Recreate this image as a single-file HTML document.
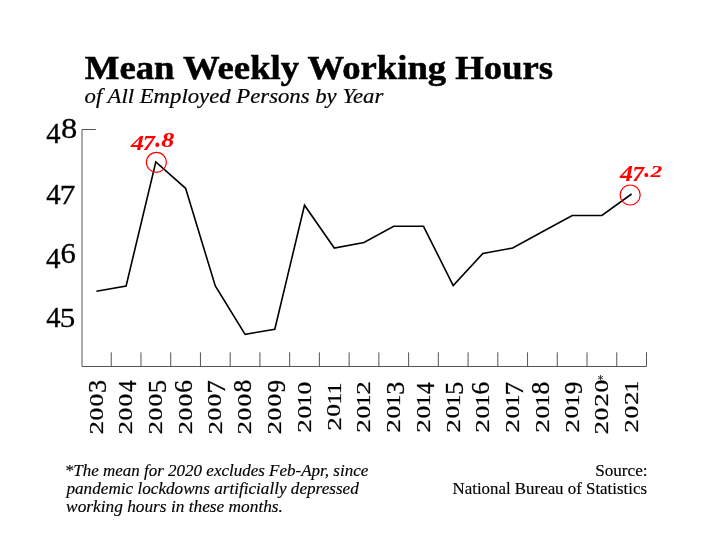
<!DOCTYPE html>
<html><head><meta charset="utf-8"><style>
html,body{margin:0;padding:0;background:#fff;width:713px;height:551px;overflow:hidden}
svg{display:block;will-change:transform}
text{font-family:"Liberation Serif",serif}
</style></head><body>
<svg width="713" height="551" viewBox="0 0 713 551">
<rect width="713" height="551" fill="#fff"/>
<text transform="translate(84.80,78.6) scale(1.1121,1)" font-size="33" font-weight="bold" fill="#000" stroke="#000" stroke-width="0.5">Mean Weekly Working Hours</text>
<text transform="translate(84.58,102.7) scale(1.0834,1)" font-size="21" font-style="italic" fill="#000" stroke="#000" stroke-width="0.2">of All Employed Persons by Year</text>
<g fill="#000" stroke="#000" stroke-width="0.3">
<text transform="matrix(1.022 0 0 1.02 46.14 142.7)" font-size="28" >4</text>
<text transform="matrix(1.163 0 0 1.027 61.06 138)" font-size="28" >8</text>
<text transform="matrix(1.03 0 0 1.042 46.14 204.4)" font-size="28" >4</text>
<text transform="matrix(1.119 0 0 1.009 59.83 204.4)" font-size="28" >7</text>
<text transform="matrix(1.037 0 0 1.026 45.93 267.7)" font-size="28" >4</text>
<text transform="matrix(1.095 0 0 1.042 60.58 263.4)" font-size="28" >6</text>
<text transform="matrix(1.022 0 0 1.036 46.14 327)" font-size="28" >4</text>
<text transform="matrix(1.108 0 0 0.9996 59.7 326.7)" font-size="28" >5</text>
</g>
<g stroke="#555" stroke-width="1" fill="none">
<path d="M95.8,129.5H82V366.5H646.5V352.3"/>
<line x1="111.24" y1="352.3" x2="111.24" y2="366.5"/><line x1="140.97" y1="352.3" x2="140.97" y2="366.5"/><line x1="170.71" y1="352.3" x2="170.71" y2="366.5"/><line x1="200.45" y1="352.3" x2="200.45" y2="366.5"/><line x1="230.18" y1="352.3" x2="230.18" y2="366.5"/><line x1="259.92" y1="352.3" x2="259.92" y2="366.5"/><line x1="289.66" y1="352.3" x2="289.66" y2="366.5"/><line x1="319.39" y1="352.3" x2="319.39" y2="366.5"/><line x1="349.13" y1="352.3" x2="349.13" y2="366.5"/><line x1="378.87" y1="352.3" x2="378.87" y2="366.5"/><line x1="408.61" y1="352.3" x2="408.61" y2="366.5"/><line x1="438.34" y1="352.3" x2="438.34" y2="366.5"/><line x1="468.08" y1="352.3" x2="468.08" y2="366.5"/><line x1="497.82" y1="352.3" x2="497.82" y2="366.5"/><line x1="527.55" y1="352.3" x2="527.55" y2="366.5"/><line x1="557.29" y1="352.3" x2="557.29" y2="366.5"/><line x1="587.03" y1="352.3" x2="587.03" y2="366.5"/><line x1="616.76" y1="352.3" x2="616.76" y2="366.5"/>
</g>
<polyline points="96.4,291.2 126.1,286.0 155.8,162.0 185.6,188.3 215.3,286.0 245.1,334.3 274.8,329.3 304.5,205.2 334.3,248.0 364.0,242.5 393.7,226.3 423.5,226.3 453.2,285.5 482.9,253.4 512.7,248.0 542.4,231.8 572.2,215.5 601.9,215.5 631.6,194.0" fill="none" stroke="#000" stroke-width="1.6" stroke-linejoin="miter"/>
<g fill="none" stroke="#f00" stroke-width="1.2">
<circle cx="156.4" cy="162.3" r="10"/>
<circle cx="630.2" cy="195" r="10"/>
</g>
<g fill="#f00" stroke="#f00" stroke-width="0.1">
<text transform="matrix(1.18 0 0 0.9944 130.9 150.1)" font-size="22" font-weight="bold" font-style="italic" >4</text>
<text transform="matrix(1.101 0 0 0.9996 142.8 150.1)" font-size="22" font-weight="bold" font-style="italic" >7</text>
<text transform="matrix(1.065 0 0 1.206 155.2 146.5)" font-size="22" font-weight="bold" font-style="italic" >.</text>
<text transform="matrix(1.188 0 0 0.9632 161.2 146.7)" font-size="22" font-weight="bold" font-style="italic" >8</text>
<text transform="matrix(1.18 0 0 1.015 620 180.7)" font-size="22" font-weight="bold" font-style="italic" >4</text>
<text transform="matrix(1.073 0 0 0.9996 632.2 180.7)" font-size="22" font-weight="bold" font-style="italic" >7</text>
<text transform="matrix(1.065 0 0 1.122 644.3 176.9)" font-size="22" font-weight="bold" font-style="italic" >.</text>
<text transform="matrix(1.068 0 0 0.7483 650.4 177.2)" font-size="22" font-weight="bold" font-style="italic" >2</text>
</g>
<g fill="#000" stroke="#000" stroke-width="0.3">
<text transform="matrix(0 -1.036 0.7377 0 102.7 434.5)" font-size="26" >2</text><text transform="matrix(0 -0.9801 0.7239 0 102.5 420.4)" font-size="26" >0</text><text transform="matrix(0 -0.9801 0.7239 0 102.5 406.5)" font-size="26" >0</text><text transform="matrix(0 -1.006 0.9445 0 106.2 392.9)" font-size="26" >3</text>
<text transform="matrix(0 -1.036 0.7377 0 132.4 434.5)" font-size="26" >2</text><text transform="matrix(0 -0.9801 0.7239 0 132.2 420.4)" font-size="26" >0</text><text transform="matrix(0 -0.9801 0.7239 0 132.2 406.5)" font-size="26" >0</text><text transform="matrix(0 -0.8936 0.9642 0 136.2 392.1)" font-size="26" >4</text>
<text transform="matrix(0 -1.036 0.7377 0 162.1 434.5)" font-size="26" >2</text><text transform="matrix(0 -0.9801 0.7239 0 162 420.4)" font-size="26" >0</text><text transform="matrix(0 -0.9801 0.7239 0 162 406.5)" font-size="26" >0</text><text transform="matrix(0 -1.031 0.955 0 165.7 393.2)" font-size="26" >5</text>
<text transform="matrix(0 -1.036 0.7377 0 191.9 434.5)" font-size="26" >2</text><text transform="matrix(0 -0.9801 0.7239 0 191.7 420.4)" font-size="26" >0</text><text transform="matrix(0 -0.9801 0.7239 0 191.7 406.5)" font-size="26" >0</text><text transform="matrix(0 -0.9722 0.9732 0 191.6 392.7)" font-size="26" >6</text>
<text transform="matrix(0 -1.036 0.7377 0 221.6 434.5)" font-size="26" >2</text><text transform="matrix(0 -0.9801 0.7239 0 221.4 420.4)" font-size="26" >0</text><text transform="matrix(0 -0.9801 0.7239 0 221.4 406.5)" font-size="26" >0</text><text transform="matrix(0 -1.025 0.9692 0 225.4 393.4)" font-size="26" >7</text>
<text transform="matrix(0 -1.036 0.7377 0 251.4 434.5)" font-size="26" >2</text><text transform="matrix(0 -0.9801 0.7239 0 251.2 420.4)" font-size="26" >0</text><text transform="matrix(0 -0.9801 0.7239 0 251.2 406.5)" font-size="26" >0</text><text transform="matrix(0 -0.9801 0.9689 0 251.1 392.6)" font-size="26" >8</text>
<text transform="matrix(0 -1.036 0.7377 0 281.1 434.5)" font-size="26" >2</text><text transform="matrix(0 -0.9801 0.7239 0 280.9 420.4)" font-size="26" >0</text><text transform="matrix(0 -0.9801 0.7239 0 280.9 406.5)" font-size="26" >0</text><text transform="matrix(0 -0.9733 0.9445 0 284.6 392.5)" font-size="26" >9</text>
<text transform="matrix(0 -1.036 0.7377 0 310.8 432.7)" font-size="26" >2</text><text transform="matrix(0 -0.9801 0.7239 0 310.6 418.6)" font-size="26" >0</text><text transform="matrix(0 -0.8958 0.7399 0 310.8 406.3)" font-size="26" >1</text><text transform="matrix(0 -0.9801 0.7239 0 310.6 394.5)" font-size="26" >0</text>
<text transform="matrix(0 -1.036 0.7377 0 340.6 430.8)" font-size="26" >2</text><text transform="matrix(0 -0.9801 0.7239 0 340.4 416.7)" font-size="26" >0</text><text transform="matrix(0 -0.8958 0.7399 0 340.6 404.4)" font-size="26" >1</text><text transform="matrix(0 -0.8958 0.7399 0 340.6 394.2)" font-size="26" >1</text>
<text transform="matrix(0 -1.036 0.7377 0 370.3 432.7)" font-size="26" >2</text><text transform="matrix(0 -0.9801 0.7239 0 370.1 418.6)" font-size="26" >0</text><text transform="matrix(0 -0.8958 0.7399 0 370.3 406.3)" font-size="26" >1</text><text transform="matrix(0 -1.036 0.7377 0 370.3 394.7)" font-size="26" >2</text>
<text transform="matrix(0 -1.036 0.7377 0 400 432.7)" font-size="26" >2</text><text transform="matrix(0 -0.9801 0.7239 0 399.9 418.6)" font-size="26" >0</text><text transform="matrix(0 -0.8958 0.7399 0 400 406.3)" font-size="26" >1</text><text transform="matrix(0 -1.006 0.9445 0 403.6 394.8)" font-size="26" >3</text>
<text transform="matrix(0 -1.036 0.7377 0 429.8 432.7)" font-size="26" >2</text><text transform="matrix(0 -0.9801 0.7239 0 429.6 418.6)" font-size="26" >0</text><text transform="matrix(0 -0.8958 0.7399 0 429.8 406.3)" font-size="26" >1</text><text transform="matrix(0 -0.8936 0.9642 0 433.6 394)" font-size="26" >4</text>
<text transform="matrix(0 -1.036 0.7377 0 459.5 432.7)" font-size="26" >2</text><text transform="matrix(0 -0.9801 0.7239 0 459.3 418.6)" font-size="26" >0</text><text transform="matrix(0 -0.8958 0.7399 0 459.5 406.3)" font-size="26" >1</text><text transform="matrix(0 -1.031 0.955 0 463.1 395.1)" font-size="26" >5</text>
<text transform="matrix(0 -1.036 0.7377 0 489.2 432.7)" font-size="26" >2</text><text transform="matrix(0 -0.9801 0.7239 0 489.1 418.6)" font-size="26" >0</text><text transform="matrix(0 -0.8958 0.7399 0 489.2 406.3)" font-size="26" >1</text><text transform="matrix(0 -0.9722 0.9732 0 489 394.6)" font-size="26" >6</text>
<text transform="matrix(0 -1.036 0.7377 0 519 432.7)" font-size="26" >2</text><text transform="matrix(0 -0.9801 0.7239 0 518.8 418.6)" font-size="26" >0</text><text transform="matrix(0 -0.8958 0.7399 0 519 406.3)" font-size="26" >1</text><text transform="matrix(0 -1.025 0.9692 0 522.8 395.3)" font-size="26" >7</text>
<text transform="matrix(0 -1.036 0.7377 0 548.7 432.7)" font-size="26" >2</text><text transform="matrix(0 -0.9801 0.7239 0 548.5 418.6)" font-size="26" >0</text><text transform="matrix(0 -0.8958 0.7399 0 548.7 406.3)" font-size="26" >1</text><text transform="matrix(0 -0.9801 0.9689 0 548.5 394.5)" font-size="26" >8</text>
<text transform="matrix(0 -1.036 0.7377 0 578.5 432.7)" font-size="26" >2</text><text transform="matrix(0 -0.9801 0.7239 0 578.3 418.6)" font-size="26" >0</text><text transform="matrix(0 -0.8958 0.7399 0 578.5 406.3)" font-size="26" >1</text><text transform="matrix(0 -0.9733 0.9445 0 582 394.3)" font-size="26" >9</text>
<text transform="matrix(0 -1.036 0.7377 0 608.2 434.5)" font-size="26" >2</text><text transform="matrix(0 -0.9801 0.7239 0 608 420.4)" font-size="26" >0</text><text transform="matrix(0 -1.036 0.7377 0 608.2 406.7)" font-size="26" >2</text><text transform="matrix(0 -0.9801 0.7239 0 608 392.6)" font-size="26" >0</text>
<text transform="matrix(0 -1.036 0.7377 0 637.9 432.7)" font-size="26" >2</text><text transform="matrix(0 -0.9801 0.7239 0 637.7 418.6)" font-size="26" >0</text><text transform="matrix(0 -1.036 0.7377 0 637.9 404.9)" font-size="26" >2</text><text transform="matrix(0 -0.8958 0.7399 0 637.9 392.4)" font-size="26" >1</text>
<path d="M600.5,375.4V380M598.3,376.5L602.7,378.9M598.3,378.9L602.7,376.5" stroke="#222" stroke-width="0.85" fill="none" stroke-linecap="round"/>
</g>
<g font-size="16" font-style="italic" fill="#000" stroke="#000" stroke-width="0.15">
<text transform="translate(64.67,476) scale(1.0636,1)" >*The mean for 2020 excludes Feb-Apr, since</text>
<text transform="translate(66.47,494) scale(1.0730,1)" >pandemic lockdowns artificially depressed</text>
<text transform="translate(66.11,512) scale(1.0829,1)" >working hours in these months.</text>
</g>
<g font-size="16" fill="#000" stroke="#000" stroke-width="0.15">
<text transform="translate(595.13,475.7) scale(1.0724,1)" >Source:</text>
<text transform="translate(452.54,493.9) scale(1.0547,1)" >National Bureau of Statistics</text>
</g>
</svg>
</body></html>
